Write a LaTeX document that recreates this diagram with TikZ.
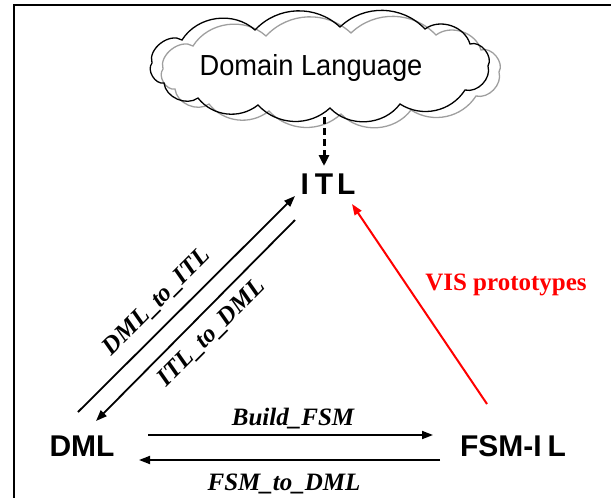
\documentclass[tikz,border=0pt]{standalone}
\usepackage{fontspec}
\setmainfont{Liberation Serif}
\newfontfamily\headsans{Liberation Sans}
\newfontfamily\cloudsans[FakeStretch=0.94]{Liberation Sans}
\usetikzlibrary{arrows.meta}

% outline of the cloud, traced clockwise so that every bend bulges outwards
\newcommand{\cloudoutline}{%
  (152,63) to[bend left=70] (182,40) to[bend left=50] (255,30)
  to[bend left=45] (340,27) to[bend left=45] (425,29)
  to[bend left=55] (470,44) to[bend left=70] (488,66)
  to[bend left=60] (465,90) to[bend left=45] (400,104)
  to[bend left=50] (330,108) to[bend left=45] (258,105)
  to[bend left=45] (198,98) to[bend left=60] (164,83)
  to[bend left=70] cycle}

\begin{document}
\begin{tikzpicture}[x=1pt,y=-1pt,
  lang/.style={font=\headsans\bfseries\fontsize{30}{30}\selectfont, inner sep=0pt, anchor=base},
  xform/.style={font=\bfseries\itshape\fontsize{25}{25}\selectfont, inner sep=0pt},
  arr/.style={line width=1.8pt, -{Triangle[length=11pt,width=8pt]}}
]
  \useasboundingbox (0,0) rectangle (611,498);

  % frame, open to the right and bottom
  \draw[line width=2pt] (14,498) -- (14,5) -- (611,5);

  % domain language cloud with its grey echo
  \begin{scope}[xshift=11pt, yshift=-6pt]
    \draw[gray!75, line width=1.3pt] \cloudoutline;
  \end{scope}
  \draw[black, line width=1.3pt] \cloudoutline;
  \node[font=\cloudsans\fontsize{29}{29}\selectfont, inner sep=0pt, anchor=base]
    (domain) at (311,75) {Domain Language};

  % intermediate languages
  \node[lang] (itl) at (328,194) {I\kern6pt T\kern4pt L};
  \node[lang] (dml) at (82,456) {DML};
  \node[lang] (fsm) at (513,456) {FSM-I\kern6pt L};

  % connector end points
  \coordinate (cb) at (324,117);
  \coordinate (itlt) at (324,166);
  \coordinate (d1) at (78,412);
  \coordinate (i1) at (295,196);
  \coordinate (i2) at (295,220);
  \coordinate (d2) at (96,421);
  \coordinate (d3) at (148,435);
  \coordinate (f3) at (433,435);
  \coordinate (f4) at (440,460);
  \coordinate (d4) at (139,460);
  \coordinate (f5) at (487,404);
  \coordinate (i5) at (352,204);

  \draw[line width=3pt, dash pattern=on 7pt off 4pt,
        -{Triangle[length=11pt,width=10pt]}] (cb) -- (itlt);
  \draw[arr] (d1) -- (i1);
  \draw[arr] (i2) -- (d2);
  \draw[arr] (d3) -- (f3);
  \draw[arr] (f4) -- (d4);
  \draw[arr, red, line width=2pt] (f5) -- (i5);

  % transformation labels
  \node[xform, rotate=45] (l1) at (157,302) {DML\_to\_ITL};
  \node[xform, rotate=45] (l2) at (212,333) {ITL\_to\_DML};
  \node[xform, anchor=base] (l3) at (293,425) {Build\_FSM};
  \node[xform, anchor=base] (l4) at (284,490) {FSM\_to\_DML};
  \node[font=\bfseries\fontsize{25}{25}\selectfont, text=red, inner sep=0pt, anchor=base]
    (vis) at (506,290) {VIS prototypes};
\end{tikzpicture}
\end{document}
